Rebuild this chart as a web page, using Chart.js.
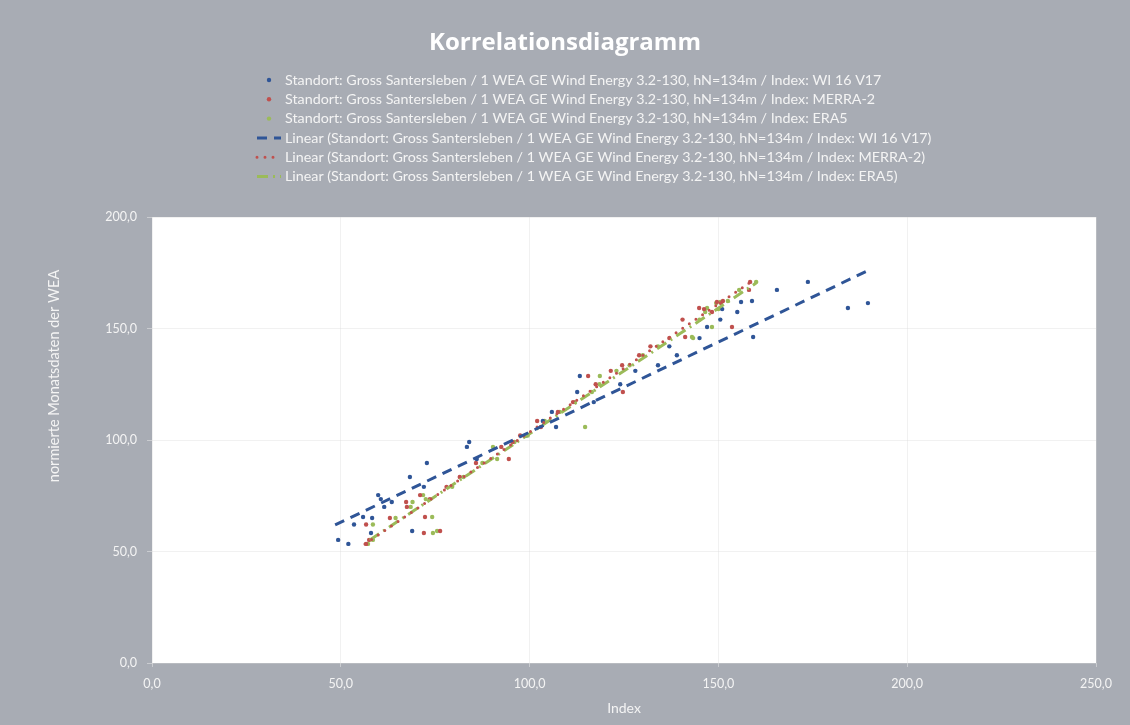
<!DOCTYPE html>
<html lang="de">
<head>
<meta charset="utf-8">
<title>Korrelationsdiagramm</title>
<script src="https://cdn.jsdelivr.net/npm/chart.js@4.4.1/dist/chart.umd.min.js"></script>
<style>
  html, body { margin: 0; padding: 0; background: #a8acb4; }
  canvas { display: block; }
</style>
</head>
<body>
<canvas id="chart" width="1130" height="725"></canvas>
<script>
// Monthly yield of the turbine (normalised) and the matching monthly wind indices
const siteText = 'Standort: Gross Santersleben / 1 WEA GE Wind Energy 3.2-130, hN=134m / Index: ';
const indexNames = ['WI 16 V17', 'MERRA-2', 'ERA5'];

const weaMonthly = [53.4, 55.2, 58.3, 59.2, 62.1, 65.0, 65.5, 70.0, 72.2, 73.5, 75.3, 79.0, 83.4, 89.7,
  91.5, 96.9, 99.1, 102.0, 105.8, 108.5, 112.6, 117.0, 121.5, 125.0, 128.7, 131.0, 133.5, 138.0,
  142.0, 145.7, 146.2, 150.7, 154.0, 157.4, 158.7, 159.2, 161.4, 161.9, 162.3, 167.3, 170.9];

const wi16Index = [52.0, 49.3, 58.0, 68.9, 53.5, 58.3, 55.9, 61.5, 63.5, 60.6, 59.9, 72.0, 68.3, 72.8,
  86.0, 83.4, 84.0, 99.0, 107.0, 103.5, 105.9, 117.0, 112.6, 124.0, 113.3, 128.0, 134.0, 139.0,
  137.0, 145.0, 159.2, 147.0, 150.5, 155.0, 151.0, 184.3, 189.6, 156.0, 158.9, 165.5, 173.7];

const merra2Index = [56.7, 57.5, 72.0, 76.3, 56.7, 63.0, 72.3, 67.5, 67.3, 73.6, 71.0, 78.0, 81.5, 85.8,
  94.5, 92.5, 95.5, 97.5, 103.0, 102.0, 107.5, 111.5, 124.7, 117.5, 115.5, 121.5, 124.5, 129.0,
  132.0, 137.0, 141.2, 153.6, 140.5, 148.3, 146.2, 144.9, 150.7, 149.6, 151.2, 158.1, 158.4];

const era5Index = [57.2, 58.5, 74.4, 75.5, 58.5, 64.5, 74.2, 68.5, 69.0, 72.5, 71.8, 79.5, 82.5, 87.5,
  91.4, 90.3, 96.0, 99.5, 114.7, 104.0, 108.0, 112.0, 116.5, 118.5, 118.6, 123.0, 126.5, 130.0,
  134.0, 143.3, 143.0, 148.3, 145.0, 146.5, 150.0, 147.0, 149.4, 150.5, 152.5, 155.5, 160.0];

// Linear trend lines: start and end of each fitted line
const trendWi16X = [48.5, 189.4];
const trendWi16Y = [61.9, 175.8];
const trendMerra2X = [56.4, 158.2];
const trendMerra2Y = [53.4, 170.4];
const trendEra5X = [57.7, 160.0];
const trendEra5Y = [55.2, 170.4];

const xTickValues = [0, 50, 100, 150, 200, 250];
const yTickValues = [0, 50, 100, 150, 200];
const yAxisTitle = 'normierte Monatsdaten der WEA';

const FONT = 'Lato, "Open Sans", sans-serif';
const TITLE_FONT = '"Open Sans", Lato, sans-serif';
const TEXT = '#f4f4f4';
const BLUE = '#2f5597';
const RED = '#c0504d';
const GREEN = '#9bbb59';

const toPoints = (xs, ys) => xs.map((x, i) => ({ x: x, y: ys[i] }));
const comma = v => v.toFixed(1).replace('.', ',');

const scatterSet = (name, xs, color) => ({
  type: 'scatter',
  label: siteText + name,
  data: toPoints(xs, weaMonthly),
  backgroundColor: color,
  borderColor: color,
  pointRadius: 2.2,
  pointBorderWidth: 0,
  order: 1
});

const trendSet = (name, xs, ys, color, dash, cap) => ({
  type: 'line',
  label: 'Linear (' + siteText + name + ')',
  data: toPoints(xs, ys),
  borderColor: color,
  backgroundColor: color,
  borderWidth: 3,
  borderDash: dash,
  borderCapStyle: cap,
  pointRadius: 0,
  showLine: true,
  fill: false,
  order: 0
});

// gray chart background with white plot area
const backdrop = {
  id: 'backdrop',
  beforeDraw(chart) {
    const { ctx, chartArea: a } = chart;
    ctx.save();
    ctx.fillStyle = '#a8acb4';
    ctx.fillRect(0, 0, chart.width, chart.height);
    ctx.fillStyle = '#ffffff';
    ctx.fillRect(a.left, a.top, a.right - a.left, a.bottom - a.top);
    ctx.restore();
  }
};

// series legend stacked under the title, plus the vertical axis caption
const legendRows = {
  id: 'legendRows',
  afterDraw(chart) {
    const ctx = chart.ctx;
    const keyLeft = 257, keyRight = 281, textX = 285, top = 80, gap = 19.3;
    ctx.save();
    ctx.font = '14.3px ' + FONT;
    ctx.textBaseline = 'middle';
    ctx.textAlign = 'left';
    chart.data.datasets.forEach((ds, i) => {
      const y = top + i * gap;
      if (ds.type === 'line') {
        ctx.strokeStyle = ds.borderColor;
        ctx.lineWidth = 3;
        ctx.lineCap = ds.borderCapStyle;
        ctx.setLineDash(ds.borderDash);
        ctx.beginPath();
        ctx.moveTo(keyLeft, y);
        ctx.lineTo(keyRight, y);
        ctx.stroke();
        ctx.setLineDash([]);
      } else {
        ctx.fillStyle = ds.backgroundColor;
        ctx.beginPath();
        ctx.arc((keyLeft + keyRight) / 2, y, 2.2, 0, Math.PI * 2);
        ctx.fill();
      }
      ctx.fillStyle = TEXT;
      ctx.fillText(ds.label, textX, y);
    });

    ctx.translate(54, 376);
    ctx.rotate(-Math.PI / 2);
    ctx.textAlign = 'center';
    ctx.font = '14.5px ' + FONT;
    ctx.fillText(yAxisTitle, 0, 0);
    ctx.restore();
  }
};

new Chart(document.getElementById('chart'), {
  data: {
    datasets: [
      scatterSet(indexNames[0], wi16Index, BLUE),
      scatterSet(indexNames[1], merra2Index, RED),
      scatterSet(indexNames[2], era5Index, GREEN),
      trendSet(indexNames[0], trendWi16X, trendWi16Y, BLUE, [10, 7], 'butt'),
      trendSet(indexNames[1], trendMerra2X, trendMerra2Y, RED, [0, 8], 'round'),
      trendSet(indexNames[2], trendEra5X, trendEra5Y, GREEN, [11, 5, 2, 5], 'butt')
    ]
  },
  options: {
    responsive: false,
    animation: false,
    layout: { padding: 0 },
    plugins: {
      legend: { display: false },
      tooltip: { enabled: false },
      title: {
        display: true,
        text: 'Korrelationsdiagramm',
        color: '#ffffff',
        font: { family: TITLE_FONT, size: 24, weight: 'bold' },
        padding: { top: 29, bottom: 159.2 }
      }
    },
    scales: {
      x: {
        type: 'linear',
        min: 0,
        max: 250,
        afterBuildTicks: s => { s.ticks = xTickValues.map(v => ({ value: v })); },
        afterFit: s => { s.height = 62; s.paddingLeft = 0; s.paddingRight = 34; },
        border: { display: false },
        grid: { color: 'rgba(215,215,215,0.35)', tickLength: 4, tickColor: 'rgba(235,235,235,0.5)' },
        ticks: { color: TEXT, font: { family: FONT, size: 12.5 }, padding: 9, callback: v => comma(v) },
        title: {
          display: true,
          text: 'Index',
          color: TEXT,
          font: { family: FONT, size: 14 },
          padding: { top: 0, bottom: 8 }
        }
      },
      y: {
        type: 'linear',
        min: 0,
        max: 200,
        afterBuildTicks: s => { s.ticks = yTickValues.map(v => ({ value: v })); },
        afterFit: s => { s.width = 152; s.paddingTop = 0; s.paddingBottom = 0; },
        border: { display: false },
        grid: { color: 'rgba(215,215,215,0.35)', tickLength: 5, tickColor: 'rgba(235,235,235,0.5)' },
        ticks: { color: TEXT, font: { family: FONT, size: 12.5 }, padding: 10, callback: v => comma(v) },
        title: { display: false }
      }
    }
  },
  plugins: [backdrop, legendRows]
});
</script>
</body>
</html>
